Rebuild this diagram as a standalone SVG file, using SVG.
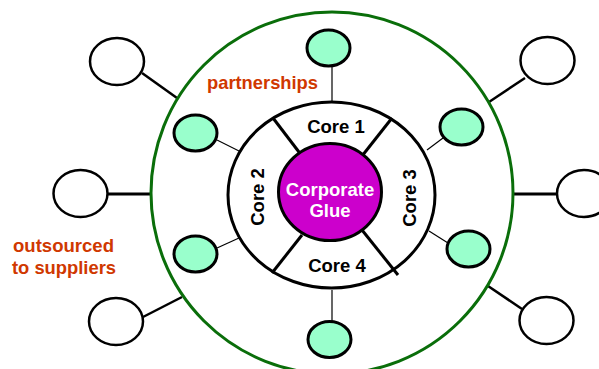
<svg xmlns="http://www.w3.org/2000/svg" width="599" height="369" viewBox="0 0 599 369">
<style>
.ext{fill:#fff;stroke:#000;stroke-width:2.5}
.par{fill:#99ffcc;stroke:#000;stroke-width:3}
.thin{stroke:#000;stroke-width:1.2;fill:none}
.thick{stroke:#000;stroke-width:2.5;fill:none}
.div{stroke:#000;stroke-width:3;fill:none}
.lbl{font-family:"Liberation Sans",Arial,sans-serif;font-weight:bold;font-size:18.5px;fill:#000;text-anchor:middle}
.org{font-family:"Liberation Sans",Arial,sans-serif;font-weight:bold;font-size:18.5px;fill:#d03800}
</style>
<rect width="599" height="369" fill="#fff"/>
<g id="connectors">
<line class="thick" x1="142" y1="73" x2="177" y2="98"/>
<line class="thick" x1="107" y1="194" x2="151" y2="194" style="stroke-width:3"/>
<line class="thick" x1="143" y1="317" x2="182" y2="297"/>
<line class="thick" x1="525" y1="78" x2="489" y2="102"/>
<line class="thick" x1="513" y1="194" x2="557" y2="194" style="stroke-width:3"/>
<line class="thick" x1="522" y1="309" x2="488" y2="286"/>
<line class="thin" x1="332" y1="66" x2="332" y2="103"/>
<line class="thin" x1="217" y1="140" x2="239" y2="151"/>
<line class="thin" x1="217" y1="248" x2="239" y2="238"/>
<line class="thin" x1="443" y1="138" x2="427" y2="150"/>
<line class="thin" x1="448" y1="243" x2="429" y2="231"/>
<line class="thin" x1="332" y1="290" x2="332" y2="322"/>
</g>
<g id="boundary">
<circle cx="332" cy="193" r="181" fill="none" stroke="#0a6e0a" stroke-width="3"/>
</g>
<g id="core-ring">
<ellipse cx="331.5" cy="195" rx="103.5" ry="93" fill="#fff" stroke="#000" stroke-width="3"/>
<line class="div" x1="273" y1="118" x2="302" y2="156"/>
<line class="div" x1="392" y1="118" x2="362" y2="156"/>
<line class="div" x1="302" y1="235" x2="272" y2="273"/>
<line class="div" x1="362" y1="230" x2="398" y2="275"/>
</g>
<g id="core1"><text class="lbl" x="336" y="133">Core 1</text></g>
<g id="core2"><text class="lbl" transform="translate(264,197) rotate(-90)">Core 2</text></g>
<g id="core3"><text class="lbl" transform="translate(416,198) rotate(-90)">Core 3</text></g>
<g id="core4"><text class="lbl" x="337" y="272">Core 4</text></g>
<g id="glue">
<ellipse cx="330" cy="192" rx="51.5" ry="48.5" fill="#cc00cc" stroke="#000" stroke-width="3"/>
<text class="lbl" x="330" y="196" style="fill:#fff">Corporate</text>
<text class="lbl" x="330" y="217" style="fill:#fff">Glue</text>
</g>
<g id="p-top"><ellipse class="par" cx="328.5" cy="48" rx="21.5" ry="18"/></g>
<g id="p-lt"><ellipse class="par" cx="195.5" cy="133" rx="21.5" ry="18"/></g>
<g id="p-lb"><ellipse class="par" cx="195.5" cy="254" rx="21.5" ry="18"/></g>
<g id="p-rt"><ellipse class="par" cx="461.5" cy="127" rx="21.5" ry="18"/></g>
<g id="p-rb"><ellipse class="par" cx="468.5" cy="249" rx="21.5" ry="18"/></g>
<g id="p-bot"><ellipse class="par" cx="329.5" cy="339.5" rx="21.5" ry="18"/></g>
<g id="s-tl"><ellipse class="ext" cx="117" cy="61.5" rx="27" ry="23.5"/></g>
<g id="s-l"><ellipse class="ext" cx="80.5" cy="193.5" rx="27" ry="23.5"/></g>
<g id="s-bl"><ellipse class="ext" cx="116" cy="321.5" rx="27" ry="23.5"/></g>
<g id="s-tr"><ellipse class="ext" cx="547.5" cy="60.5" rx="27" ry="23.5"/></g>
<g id="s-r"><ellipse class="ext" cx="584" cy="193.5" rx="27" ry="23.5"/></g>
<g id="s-br"><ellipse class="ext" cx="546.5" cy="320.5" rx="27" ry="23.5"/></g>
<g id="label-partnerships"><text class="org" x="207" y="89" textLength="111" lengthAdjust="spacingAndGlyphs">partnerships</text></g>
<g id="label-outsourced">
<text class="org" x="13" y="252" textLength="101" lengthAdjust="spacingAndGlyphs">outsourced</text>
<text class="org" x="12" y="274" textLength="104" lengthAdjust="spacingAndGlyphs">to suppliers</text>
</g>
</svg>
